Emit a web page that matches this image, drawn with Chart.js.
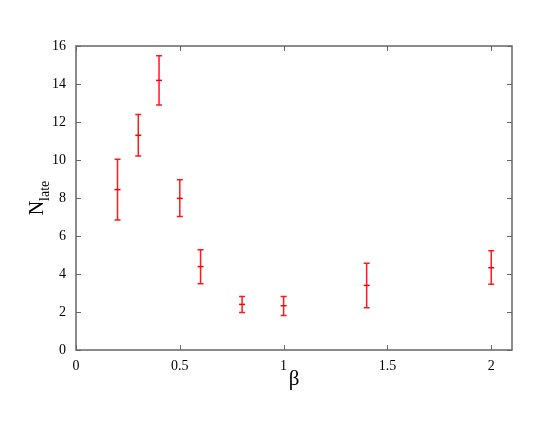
<!DOCTYPE html>
<html>
<head>
<meta charset="utf-8">
<script src="https://cdn.jsdelivr.net/npm/chart.js@4"></script>
<style>
  body { margin: 0; background: #fff; }
  #wrap { width: 545px; height: 421px; }
</style>
</head>
<body>
<div id="wrap"><canvas id="myChart" width="545" height="421"></canvas></div>
<script>
const betaValues = [0.2, 0.3, 0.4, 0.5, 0.6, 0.8, 1.0, 1.4, 2.0];
const nLate = [8.44, 11.3, 14.19, 7.98, 4.39, 2.4, 2.33, 3.4, 4.33];
const errLow = [6.84, 10.21, 12.89, 7.02, 3.49, 1.98, 1.82, 2.23, 3.46];
const errHigh = [10.04, 12.4, 15.49, 8.96, 5.28, 2.82, 2.82, 4.56, 5.23];
const xTicks = [0, 0.5, 1, 1.5, 2];
const yTicks = [0, 2, 4, 6, 8, 10, 12, 14, 16];

const serif = "'Liberation Serif', 'DejaVu Serif', serif";
const axisColor = '#666';

// error bars, inward ticks, box frame and axis titles
const extras = {
  id: 'extras',
  afterDatasetsDraw(chart) {
    const ctx = chart.ctx;
    const xs = chart.scales.x, ys = chart.scales.y;
    const a = chart.chartArea;
    ctx.save();
    ctx.strokeStyle = 'rgba(255,0,0,0.9)';
    ctx.lineWidth = 1.5;
    for (let i = 0; i < betaValues.length; i++) {
      const px = xs.getPixelForValue(betaValues[i]);
      const lo = ys.getPixelForValue(errLow[i]);
      const hi = ys.getPixelForValue(errHigh[i]);
      ctx.beginPath();
      ctx.moveTo(px, lo); ctx.lineTo(px, hi);
      ctx.moveTo(px - 3, lo); ctx.lineTo(px + 3, lo);
      ctx.moveTo(px - 3, hi); ctx.lineTo(px + 3, hi);
      ctx.stroke();
    }
    // frame
    ctx.strokeStyle = axisColor;
    ctx.lineWidth = 1.5;
    ctx.strokeRect(a.left, a.top, a.right - a.left, a.bottom - a.top);
    ctx.lineWidth = 1;
    ctx.beginPath();
    xTicks.forEach(v => {
      const px = Math.round(xs.getPixelForValue(v)) + 0.5;
      ctx.moveTo(px, a.bottom); ctx.lineTo(px, a.bottom - 5);
      ctx.moveTo(px, a.top); ctx.lineTo(px, a.top + 5);
    });
    yTicks.forEach(v => {
      const py = Math.round(ys.getPixelForValue(v)) + 0.5;
      ctx.moveTo(a.left, py); ctx.lineTo(a.left + 5, py);
      ctx.moveTo(a.right, py); ctx.lineTo(a.right - 5, py);
    });
    ctx.stroke();
    // titles
    ctx.fillStyle = '#000';
    ctx.font = '21px ' + serif;
    ctx.textAlign = 'center';
    ctx.textBaseline = 'alphabetic';
    ctx.fillText('β', (a.left + a.right) / 2, 385);
    ctx.translate(43, (a.top + a.bottom) / 2);
    ctx.rotate(-Math.PI / 2);
    ctx.textAlign = 'left';
    ctx.font = '20px ' + serif;
    const nw = ctx.measureText('N').width;
    ctx.font = '14px ' + serif;
    const sw = ctx.measureText('late').width;
    const start = -(nw + sw) / 2;
    ctx.font = '20px ' + serif;
    ctx.fillText('N', start, 0);
    ctx.font = '14px ' + serif;
    ctx.fillText('late', start + nw, 6);
    ctx.restore();
  }
};

const data = {
  datasets: [{
    label: 'N_late',
    data: betaValues.map((b, i) => ({ x: b, y: nLate[i] })),
    borderColor: 'rgb(255, 0, 0)',
    backgroundColor: 'rgb(255, 0, 0)',
    pointStyle: 'line',
    pointRadius: 3,
    pointBorderWidth: 1.5,
    showLine: false
  }]
};

const config = {
  type: 'scatter',
  data: data,
  options: {
    responsive: false,
    animation: false,
    layout: { padding: { top: 46, right: 33, left: 0, bottom: 0 } },
    plugins: { legend: { display: false }, tooltip: { enabled: false } },
    scales: {
      x: {
        type: 'linear',
        min: 0,
        max: 2.1,
        grid: { display: false },
        border: { display: false },
        afterBuildTicks: s => { s.ticks = xTicks.map(v => ({ value: v })); },
        afterFit: s => { s.height = 71; },
        ticks: {
          color: '#000', font: { family: serif, size: 14 }, padding: 0, maxRotation: 0,
          callback: v => String(v)
        }
      },
      y: {
        min: 0,
        max: 16,
        grid: { display: false },
        border: { display: false },
        afterBuildTicks: s => { s.ticks = yTicks.map(v => ({ value: v })); },
        afterFit: s => { s.width = 76; },
        ticks: { color: '#000', font: { family: serif, size: 14 }, padding: 2, callback: v => String(v) }
      }
    }
  },
  plugins: [extras]
};

const myChart = new Chart(document.getElementById('myChart'), config);
</script>
</body>
</html>
